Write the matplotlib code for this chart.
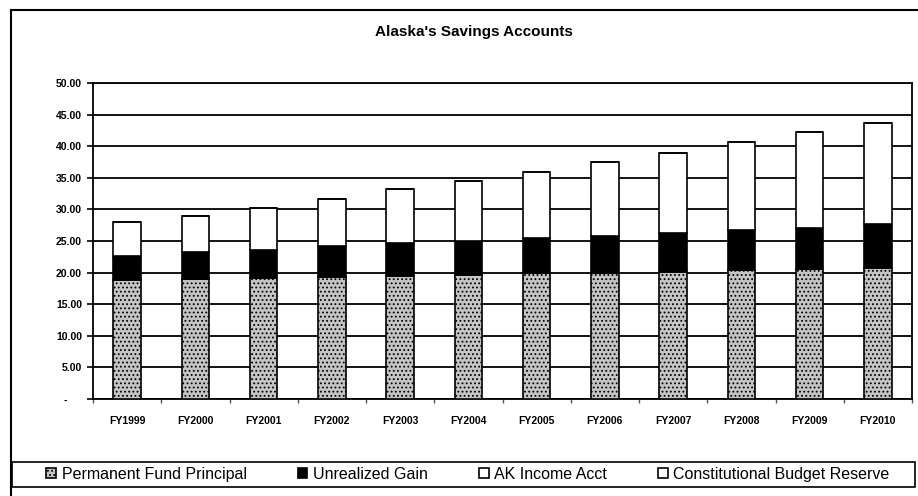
import matplotlib
matplotlib.use("Agg")
import matplotlib.pyplot as plt
from matplotlib.patches import Rectangle
from matplotlib.lines import Line2D
import numpy as np

plt.rcParams['font.family'] = ['Liberation Sans', 'DejaVu Sans']
plt.rcParams['hatch.color'] = '#7a7a7a'
plt.rcParams['hatch.linewidth'] = 0.8

years = ['FY1999', 'FY2000', 'FY2001', 'FY2002', 'FY2003', 'FY2004',
         'FY2005', 'FY2006', 'FY2007', 'FY2008', 'FY2009', 'FY2010']

# $ billions
principal = [18.83, 18.94, 19.19, 19.25, 19.46, 19.62, 19.89, 19.98, 20.14, 20.41, 20.52, 20.77]
unrealized = [3.79, 4.36, 4.38, 4.95, 5.27, 5.38, 5.53, 5.86, 6.07, 6.33, 6.58, 6.87]
income_acct = [5.43, 5.70, 6.60, 7.44, 8.44, 9.49, 10.54, 11.60, 12.76, 13.87, 15.09, 16.07]
budget_reserve = [0, 0, 0, 0, 0, 0, 0, 0, 0, 0, 0, 0]

yticks = [0, 5, 10, 15, 20, 25, 30, 35, 40, 45, 50]
ytick_labels = ['-     ', '5.00', '10.00', '15.00', '20.00', '25.00', '30.00',
                '35.00', '40.00', '45.00', '50.00']

W, H = 918, 496
fig = plt.figure(figsize=(W / 100, H / 100), dpi=100)
fig.patch.set_facecolor('white')

ax = fig.add_axes([93 / W, (H - 399) / H, (912 - 93) / W, (399 - 83) / H])

x = np.arange(len(years))
p = np.array(principal)
u = np.array(unrealized)
inc = np.array(income_acct)
cbr = np.array(budget_reserve)

bw = 0.4
kw = dict(width=bw, edgecolor='black', linewidth=1.2, zorder=3)
b1 = ax.bar(x, p, facecolor='#c4c4c4', hatch='....', label='Permanent Fund Principal', **kw)
b2 = ax.bar(x, u, bottom=p, facecolor='black', label='Unrealized Gain', **kw)
b3 = ax.bar(x, inc, bottom=p + u, facecolor='white', label='AK Income Acct', **kw)
b4 = ax.bar(x, cbr, bottom=p + u + inc, facecolor='white', label='Constitutional Budget Reserve', **kw)

ax.set_xlim(-0.5, len(years) - 0.5)
ax.set_ylim(0, 50)
ax.set_yticks(yticks)
ax.set_yticklabels(ytick_labels, fontsize=7.5, fontweight='bold')
ax.yaxis.grid(True, color='black', linewidth=1.3, zorder=0)
ax.set_axisbelow(True)

ax.set_xticks(x)
ax.set_xticklabels(years, fontsize=7.5, fontweight='bold')
ax.tick_params(axis='x', length=0, pad=12)
ax.set_xticks(np.arange(len(years) + 1) - 0.5, minor=True)
ax.tick_params(axis='x', which='minor', length=3, width=1, color='#555555')
ax.tick_params(axis='y', length=4, width=1.2, pad=4)

for s in ax.spines.values():
    s.set_linewidth(1.3)
    s.set_color('black')

fig.text(474 / W, 1 - 32 / H, "Alaska's Savings Accounts", fontsize=11,
         fontweight='bold', ha='center', va='center')

# outer chart border
fig.add_artist(Line2D([11 / W, 1], [1 - 10 / H, 1 - 10 / H], color='black', lw=1.5))
fig.add_artist(Line2D([11 / W, 11 / W], [0, 1 - 10 / H], color='black', lw=1.5))

# legend strip
fig.add_artist(Rectangle((12 / W, (H - 487) / H), (915 - 12) / W, 25 / H,
                         facecolor='white', edgecolor='black', lw=1.2,
                         transform=fig.transFigure))
fig.legend(handles=[b1, b2, b3, b4], loc='center', ncol=4,
           bbox_to_anchor=(468 / W, (H - 474.5) / H), frameon=False,
           fontsize=11.5, handlelength=0.6, handleheight=0.6,
           handletextpad=0.35, columnspacing=3.2, borderpad=0)

fig.savefig('out.png', dpi=100, facecolor='white')
